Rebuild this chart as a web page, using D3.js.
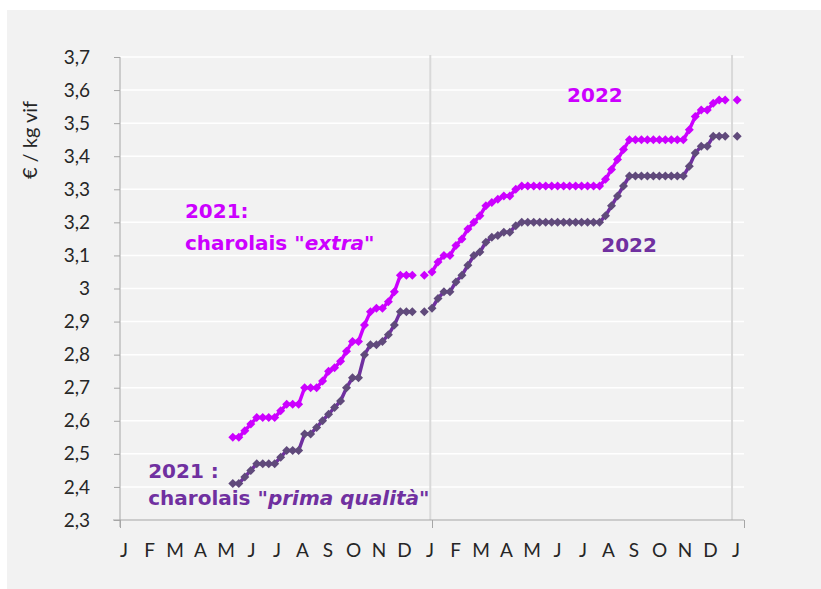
<!DOCTYPE html>
<html>
<head>
<meta charset="utf-8">
<script src="https://cdn.jsdelivr.net/npm/d3@7"></script>
<style>
  body { margin: 0; background: #fff; }
  text { font-family: Lato, "Noto Sans", sans-serif; }
</style>
</head>
<body>
<div class="chart"></div>
<script>
// data: weekly prices, € / kg vif
var start2021 = "2021-05-13";
var start2022 = "2022-01-01";
var extra2021 = [2.55,2.55,2.57,2.59,2.61,2.61,2.61,2.61,2.63,2.65,2.65,2.65,2.70,2.70,2.70,2.72,2.75,2.76,2.78,2.81,2.84,2.84,2.89,2.93,2.94,2.94,2.96,2.99,3.04,3.04,3.04,null,3.04];
var prima2021 = [2.41,2.41,2.43,2.45,2.47,2.47,2.47,2.47,2.49,2.51,2.51,2.51,2.56,2.56,2.58,2.60,2.62,2.64,2.66,2.70,2.73,2.73,2.80,2.83,2.83,2.84,2.86,2.89,2.93,2.93,2.93,null,2.93];
var extra2022 = [3.05,3.08,3.10,3.10,3.13,3.15,3.18,3.20,3.22,3.25,3.26,3.27,3.28,3.28,3.30,
  3.31,3.31,3.31,3.31,3.31,3.31,3.31,3.31,3.31,3.31,3.31,3.31,3.31,3.31,
  3.33,3.36,3.39,3.42,
  3.45,3.45,3.45,3.45,3.45,3.45,3.45,3.45,3.45,3.45,
  3.48,3.52,3.54,3.54,3.56,3.57,3.57,null,3.57];
var prima2022 = [2.94,2.97,2.99,2.99,3.02,3.04,3.07,3.10,3.11,3.14,3.155,3.16,3.17,3.17,3.19,
  3.20,3.20,3.20,3.20,3.20,3.20,3.20,3.20,3.20,3.20,3.20,3.20,3.20,3.20,
  3.22,3.25,3.28,3.31,
  3.34,3.34,3.34,3.34,3.34,3.34,3.34,3.34,3.34,3.34,
  3.37,3.41,3.43,3.43,3.46,3.46,3.46,null,3.46];

var yTicks = [2.3,2.4,2.5,2.6,2.7,2.8,2.9,3.0,3.1,3.2,3.3,3.4,3.5,3.6,3.7];
var monthLabels = ["J","F","M","A","M","J","J","A","S","O","N","D","J","F","M","A","M","J","J","A","S","O","N","D","J"];
var yearTicks = ["2021-01-01","2022-01-01","2023-01-01"];
var vGrid = ["2021-12-30","2022-12-18"];

var magenta = "#CC00FF";
var purpleLine = "#7030A0";
var purpleMark = "#604A7B";

// annotations placed in data coordinates
var notes = [
  {text: "2021:", date: "2021-03-18", value: 3.213, color: magenta},
  {text: 'charolais "', em: "extra", tail: '"', date: "2021-03-18", value: 3.116, color: magenta},
  {text: "2022", date: "2022-06-08", value: 3.564, color: magenta},
  {text: "2022", date: "2022-07-18", value: 3.110, color: purpleLine},
  {text: "2021 :", date: "2021-02-03", value: 2.427, color: purpleLine},
  {text: 'charolais "', em: "prima qualità", tail: '"', date: "2021-02-03", value: 2.345, color: purpleLine}
];

var W = 821, H = 589;
var parse = d3.timeParse("%Y-%m-%d");

function weekly(start, values) { // attach a weekly date to each value
  var s = parse(start);
  return values.map(function(v, i) { return {date: d3.timeDay.offset(s, 7 * i), value: v}; });
}

var series = [
  {data: weekly(start2021, prima2021), line: purpleLine, mark: purpleMark},
  {data: weekly(start2022, prima2022), line: purpleLine, mark: purpleMark},
  {data: weekly(start2021, extra2021), line: magenta, mark: magenta},
  {data: weekly(start2022, extra2022), line: magenta, mark: magenta}
];

var svg = d3.select(".chart").append("svg")
  .attr("width", W)
  .attr("height", H);

svg.append("rect") // grey panel
  .attr("x", 7).attr("y", 10)
  .attr("width", W - 7).attr("height", H - 10)
  .attr("fill", "#F2F2F2");

var xScale = d3.scaleTime()
  .domain([parse(yearTicks[0]), parse(yearTicks[2])])
  .range([120, 744]);
var yScale = d3.scaleLinear()
  .domain([2.3, 3.7])
  .range([520, 57]);

// white horizontal gridlines
svg.append("g").selectAll("line")
  .data(yTicks.slice(1))
  .enter().append("line")
  .attr("x1", 120).attr("x2", 744)
  .attr("y1", d => yScale(d)).attr("y2", d => yScale(d))
  .attr("stroke", "#fff")
  .attr("stroke-width", 1.5);

// the two grey vertical lines
svg.append("g").selectAll("line")
  .data(vGrid)
  .enter().append("line")
  .attr("x1", d => xScale(parse(d))).attr("x2", d => xScale(parse(d)))
  .attr("y1", 55).attr("y2", 520)
  .attr("stroke", "#D9D9D9")
  .attr("stroke-width", 2);

var yAxis = d3.axisLeft(yScale)
  .tickValues(yTicks)
  .tickSize(6)
  .tickPadding(24)
  .tickFormat(d => String(+d.toFixed(1)).replace(".", ","));

svg.append("g")
  .attr("transform", "translate(120,0)")
  .call(yAxis)
  .call(g => {
    g.select(".domain").attr("stroke", "#A6A6A6").attr("d", "M0,57V527");
    g.selectAll("line").attr("stroke", "#A6A6A6");
    g.selectAll("text")
      .attr("fill", "#262626")
      .style("font-size", "19px")
      .style("font-family", "Lato, sans-serif");
  });

var xAxis = d3.axisBottom(xScale)
  .tickValues(yearTicks.map(parse))
  .tickSize(8)
  .tickFormat("");

svg.append("g")
  .attr("transform", "translate(0,520)")
  .call(xAxis)
  .call(g => {
    g.select(".domain").attr("stroke", "#A6A6A6").attr("d", "M113,0H744");
    g.selectAll("line").attr("stroke", "#A6A6A6");
  });

// month letters under the axis
var monthScale = d3.scalePoint()
  .domain(d3.range(monthLabels.length))
  .range([124, 736]);

svg.append("g").selectAll("text")
  .data(monthLabels)
  .enter().append("text")
  .attr("x", (d, i) => monthScale(i))
  .attr("y", 557)
  .attr("text-anchor", "middle")
  .attr("fill", "#262626")
  .style("font-size", "19px")
  .text(d => d);

svg.append("text") // y axis title
  .attr("transform", "translate(37,140) rotate(-90)")
  .attr("text-anchor", "middle")
  .attr("fill", "#262626")
  .style("font-size", "20px")
  .text("€ / kg vif");

var line = d3.line()
  .defined(d => d.value != null)
  .x(d => xScale(d.date))
  .y(d => yScale(d.value));

var diamond = "M0,-4.5L4.5,0L0,4.5L-4.5,0Z";

series.forEach(function(s) {
  svg.append("path")
    .datum(s.data)
    .attr("fill", "none")
    .attr("stroke", s.line)
    .attr("stroke-width", 3.5)
    .attr("d", line);

  svg.append("g").selectAll("path")
    .data(s.data.filter(d => d.value != null))
    .enter().append("path")
    .attr("d", diamond)
    .attr("transform", d => "translate(" + xScale(d.date) + "," + yScale(d.value) + ")")
    .attr("fill", s.mark);
});

// annotation texts
var noteText = svg.append("g").selectAll("text")
  .data(notes)
  .enter().append("text")
  .attr("x", d => xScale(parse(d.date)))
  .attr("y", d => yScale(d.value))
  .attr("fill", d => d.color)
  .style("font-family", "'DejaVu Sans', sans-serif")
  .style("font-weight", "bold")
  .style("font-size", "20px");

noteText.append("tspan").text(d => d.text);
noteText.filter(d => d.em).append("tspan").style("font-style", "italic").text(d => d.em);
noteText.filter(d => d.tail).append("tspan").text(d => d.tail);
</script>
</body>
</html>
